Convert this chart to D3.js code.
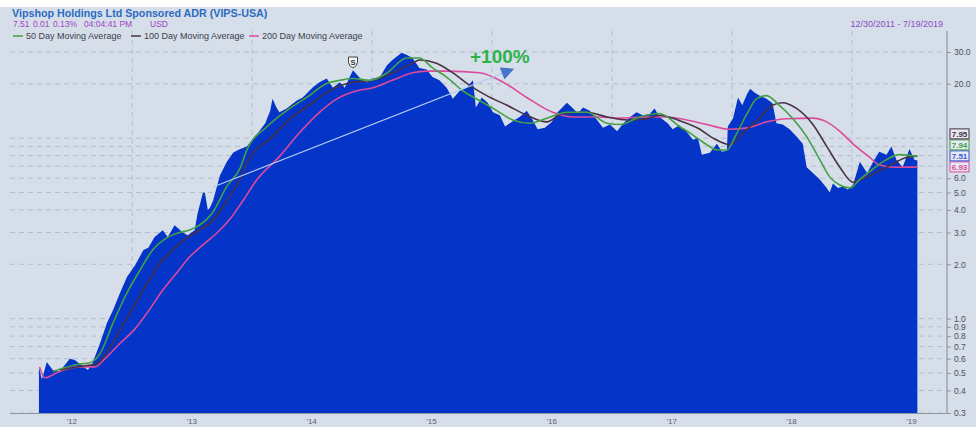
<!DOCTYPE html>
<html>
<head>
<meta charset="utf-8">
<script src="https://cdn.jsdelivr.net/npm/d3@7"></script>
<style>
  body { margin: 0; background: #fff; }
  svg { display: block; font-family: "Liberation Sans", Arial, sans-serif; }
</style>
</head>
<body>
<svg width="976" height="427"></svg>
<script>
/* globals d3 */

// daily close (split adjusted)
var priceDates = ["2012-03-23","2012-04-01","2012-04-16","2012-05-04","2012-05-25","2012-06-25","2012-07-10","2012-08-01","2012-08-19","2012-09-01","2012-09-25","2012-10-16","2012-11-04","2012-11-25","2012-12-16","2013-01-10","2013-02-04","2013-02-19","2013-03-10","2013-04-04","2013-04-19","2013-05-10","2013-06-04","2013-06-19","2013-07-10","2013-07-19","2013-08-04","2013-08-10","2013-08-19","2013-08-25","2013-09-04","2013-09-25","2013-10-16","2013-11-04","2013-11-19","2013-12-16","2014-01-01","2014-01-19","2014-02-10","2014-02-25","2014-03-04","2014-03-16","2014-03-25","2014-04-16","2014-05-16","2014-06-04","2014-07-04","2014-07-25","2014-08-16","2014-09-04","2014-09-25","2014-10-10","2014-10-25","2014-11-04","2014-12-01","2014-12-16","2015-01-04","2015-01-25","2015-02-16","2015-03-04","2015-04-01","2015-04-16","2015-05-04","2015-05-25","2015-06-16","2015-07-04","2015-07-25","2015-08-16","2015-09-04","2015-09-25","2015-10-16","2015-11-04","2015-11-13","2015-12-01","2015-12-19","2016-01-04","2016-01-25","2016-02-10","2016-03-01","2016-03-25","2016-04-16","2016-05-04","2016-05-19","2016-06-10","2016-07-01","2016-07-19","2016-08-16","2016-09-01","2016-09-19","2016-10-04","2016-10-25","2016-11-16","2016-12-04","2016-12-25","2017-01-16","2017-02-04","2017-02-25","2017-03-16","2017-04-04","2017-04-25","2017-05-10","2017-05-25","2017-06-19","2017-07-04","2017-07-25","2017-08-16","2017-09-04","2017-09-19","2017-10-01","2017-10-25","2017-11-16","2017-12-01","2017-12-16","2017-12-19","2018-01-04","2018-01-19","2018-02-01","2018-02-16","2018-02-25","2018-03-10","2018-03-25","2018-04-16","2018-05-04","2018-05-16","2018-06-04","2018-06-25","2018-07-16","2018-08-04","2018-08-16","2018-09-04","2018-09-25","2018-10-16","2018-10-25","2018-11-04","2018-11-19","2018-12-04","2018-12-19","2019-01-04","2019-01-25","2019-02-16","2019-03-10","2019-03-25","2019-04-16","2019-05-01","2019-05-16","2019-06-04","2019-06-25","2019-07-10","2019-07-19"];
var price = [0.54,0.46,0.575,0.52,0.51,0.60,0.59,0.55,0.52,0.56,0.73,0.945,1.12,1.39,1.70,1.98,2.4,2.47,2.83,3.09,2.83,3.29,3.0,2.9,3.09,3.84,4.96,5.0,4.0,4.1,4.5,6.2,7.4,8.3,8.6,9.0,9.8,10.7,12.1,14.2,16.5,14.8,13.9,14.6,16.1,16.8,19.1,20.4,21.4,19.0,20.4,19.0,21.8,23.8,20.9,20.4,21.4,21.8,25.4,27.1,29.7,29.0,27.8,24.5,24.0,21.8,20.9,19.0,16.5,18.3,19.0,20.9,14.8,16.8,15.7,13.9,13.4,11.6,12.3,13.1,14.2,12.6,11.2,11.4,12.3,13.9,15.7,14.8,13.7,14.8,14.2,12.6,11.4,11.9,10.9,12.1,13.1,13.9,13.4,13.6,14.6,13.1,12.1,11.2,11.8,10.8,9.8,10.0,8.1,8.3,9.3,8.4,8.5,11.6,12.9,16.8,15.2,17.6,18.8,17.9,17.2,16.5,15.6,12.1,11.9,11.2,10.2,9.3,6.9,6.4,5.9,5.3,5.0,5.6,5.3,5.4,5.2,5.5,7.4,6.4,7.6,8.4,8.1,9.0,7.6,6.9,8.7,7.6,7.51];

// moving averages
var ma50Dates = ["2012-05-04","2012-07-25","2012-08-25","2012-09-25","2012-11-04","2012-12-16","2013-01-25","2013-03-04","2013-04-16","2013-05-25","2013-06-25","2013-07-25","2013-09-04","2013-10-16","2013-11-25","2013-12-16","2014-02-16","2014-04-16","2014-06-16","2014-08-16","2014-09-25","2014-11-04","2014-12-25","2015-02-16","2015-04-16","2015-05-25","2015-07-04","2015-08-16","2015-10-04","2015-11-25","2016-01-16","2016-03-04","2016-04-25","2016-06-16","2016-08-16","2016-10-16","2016-12-16","2017-01-25","2017-03-25","2017-05-25","2017-07-25","2017-09-04","2017-10-16","2017-11-16","2017-12-16","2018-01-16","2018-02-16","2018-03-16","2018-04-16","2018-05-25","2018-07-04","2018-08-16","2018-09-25","2018-10-25","2018-11-25","2018-12-25","2019-01-25","2019-03-04","2019-04-16","2019-05-25","2019-07-19"];
var ma50 = [0.51,0.56,0.57,0.64,0.95,1.39,1.86,2.4,2.8,3.0,3.1,3.3,3.9,5.4,6.8,8.6,11.6,14.2,16.8,20.1,20.9,21.4,20.9,23.0,27.8,27.8,24.5,21.8,18.3,16.1,14.2,12.6,12.1,12.9,13.9,13.9,12.1,11.9,13.1,13.7,11.6,10.4,9.2,8.6,8.6,10.7,13.7,16.5,17.2,15.2,12.9,10.2,7.6,6.1,5.5,5.3,5.9,6.7,7.6,8.1,7.94];

var ma100Dates = ["2012-05-25","2012-08-16","2012-09-16","2012-10-16","2012-11-25","2013-01-04","2013-02-16","2013-03-25","2013-05-04","2013-06-16","2013-07-25","2013-09-04","2013-10-16","2013-11-25","2013-12-16","2014-03-04","2014-05-04","2014-07-04","2014-09-04","2014-11-04","2015-01-04","2015-03-04","2015-05-04","2015-05-25","2015-07-16","2015-09-04","2015-10-25","2015-12-16","2016-02-16","2016-04-16","2016-06-16","2016-08-04","2016-10-16","2016-12-16","2017-02-16","2017-04-16","2017-05-25","2017-07-25","2017-09-25","2017-11-04","2017-12-25","2018-02-04","2018-03-25","2018-05-04","2018-06-04","2018-07-16","2018-09-04","2018-10-16","2018-11-25","2019-01-04","2019-02-16","2019-04-16","2019-06-16","2019-07-19"];
var ma100 = [0.52,0.55,0.56,0.65,0.86,1.16,1.57,2.02,2.4,2.8,3.1,3.5,4.5,5.9,7.3,10.2,13.1,15.7,18.8,20.4,20.9,23.0,26.0,27.1,26.0,23.0,19.6,17.2,15.2,13.4,12.3,13.7,13.9,13.1,12.6,12.8,13.4,12.5,11.2,10.0,9.2,10.7,12.9,15.2,15.7,14.6,11.9,9.0,6.9,5.7,6.1,6.9,7.8,7.95];

var ma200Dates = ["2012-03-25","2012-04-10","2012-05-25","2012-07-25","2012-09-10","2012-10-10","2012-11-25","2013-01-10","2013-02-25","2013-04-04","2013-05-16","2013-06-25","2013-08-04","2013-09-16","2013-10-25","2013-12-04","2014-01-16","2014-03-25","2014-05-25","2014-07-25","2014-09-16","2014-11-16","2015-01-04","2015-03-04","2015-05-04","2015-06-16","2015-08-16","2015-11-25","2016-02-04","2016-04-16","2016-07-04","2016-09-04","2016-11-16","2017-01-25","2017-04-16","2017-06-16","2017-08-16","2017-10-16","2017-12-25","2018-02-16","2018-04-16","2018-06-16","2018-09-04","2018-10-16","2018-11-25","2019-01-04","2019-02-25","2019-03-25","2019-05-16","2019-07-19"];
var ma200 = [0.54,0.47,0.51,0.54,0.54,0.60,0.73,0.88,1.14,1.44,1.79,2.2,2.56,2.98,3.55,4.5,5.9,7.9,10.7,13.9,16.5,18.3,19.0,20.9,23.0,23.5,23.5,23.0,20.4,16.8,13.9,13.1,13.1,12.9,13.1,13.1,12.6,11.9,11.2,11.4,12.3,12.8,12.9,12.3,10.9,9.3,7.8,7.1,6.9,6.93];

var yTicks = [0.3,0.4,0.5,0.6,0.7,0.8,0.9,1,2,3,4,5,6,7,8,9,10,20,30];
var yLabelTicks = [0.3,0.4,0.5,0.6,0.7,0.8,0.9,1,2,3,4,5,6,20,30];
var yearLabels = ["'12","'13","'14","'15","'16","'17","'18","'19"];
var lastValues = [
  {name: "100", value: 7.95},
  {name: "50", value: 7.94},
  {name: "price", value: 7.51},
  {name: "200", value: 6.93}
];
var splitDate = "2014-11-04";
var arrowFrom = {date: "2013-09-04", value: 5.36},
    arrowTo = {date: "2016-03-05", value: 24.1};

var colors = {area: "#0434c8", ma50: "#43a047", ma100: "#4a3246", ma200: "#dd4a9c", price: "#3a57d6"};

var parse = d3.timeParse("%Y-%m-%d");
var svg = d3.select("svg"),
    plotLeft = 10, plotRight = 947, plotTop = 31, plotBottom = 413;

// background
svg.append("rect").attr("x", 0).attr("y", 7).attr("width", 976).attr("height", 420).attr("fill", "#d6deea");

var x = d3.scaleTime()
  .domain([new Date(2012, 0, 1), new Date(2019, 0, 1)])
  .range([12, 852]);
var y = d3.scaleLog().domain([0.3, 30]).range([plotBottom, 52]);

svg.append("defs").append("clipPath").attr("id", "plot")
  .append("rect").attr("x", plotLeft).attr("y", plotTop)
  .attr("width", plotRight - plotLeft).attr("height", plotBottom - plotTop);

// grid
svg.append("g")
  .selectAll("line")
  .data(yTicks)
  .enter().append("line")
  .attr("x1", plotLeft).attr("x2", plotRight)
  .attr("y1", function(d) { return y(d); })
  .attr("y2", function(d) { return y(d); })
  .attr("stroke", "#b4bdcb").attr("stroke-dasharray", "5,4");

svg.append("g")
  .selectAll("line")
  .data(d3.range(2013, 2020))
  .enter().append("line")
  .attr("x1", function(d) { return x(new Date(d, 0, 1)); })
  .attr("x2", function(d) { return x(new Date(d, 0, 1)); })
  .attr("y1", plotTop).attr("y2", plotBottom)
  .attr("stroke", "#b4bdcb").attr("stroke-dasharray", "5,4");

var plot = svg.append("g").attr("clip-path", "url(#plot)");

var priceData = priceDates.map(function(d, i) { return {date: parse(d), value: price[i]}; });

plot.append("path")
  .datum(priceData)
  .attr("fill", colors.area)
  .attr("d", d3.area()
    .x(function(d) { return x(d.date); })
    .y0(plotBottom)
    .y1(function(d) { return y(d.value); }));

function series(dates, vals) {
  return dates.map(function(d, i) { return {date: parse(d), value: vals[i]}; });
}
var maLine = d3.line()
  .curve(d3.curveMonotoneX)
  .x(function(d) { return x(d.date); })
  .y(function(d) { return y(d.value); });

[[ma200Dates, ma200, colors.ma200], [ma100Dates, ma100, colors.ma100], [ma50Dates, ma50, colors.ma50]].forEach(function(s) {
  plot.append("path")
    .datum(series(s[0], s[1]))
    .attr("fill", "none")
    .attr("stroke", s[2])
    .attr("stroke-width", 1.6)
    .attr("d", maLine);
});

// axes
svg.append("line").attr("x1", plotRight).attr("x2", plotRight).attr("y1", plotTop).attr("y2", plotBottom)
  .attr("stroke", "#8e96a3").attr("stroke-width", 1.2);
svg.append("line").attr("x1", plotLeft).attr("x2", plotRight).attr("y1", plotBottom + 0.5).attr("y2", plotBottom + 0.5)
  .attr("stroke", "#8e96a3");

var yAxis = svg.append("g")
  .attr("transform", "translate(" + plotRight + ",0)")
  .call(d3.axisRight(y).tickValues(yLabelTicks).tickSize(4).tickPadding(3)
    .tickFormat(d3.format(".1f")));
yAxis.select(".domain").remove();
yAxis.selectAll("line").attr("stroke", "#8e96a3");
yAxis.selectAll("text").attr("fill", "#4a505c").attr("font-size", 8.5).attr("font-family", "Liberation Sans, Arial, sans-serif");

svg.append("g")
  .selectAll("text")
  .data(yearLabels)
  .enter().append("text")
  .attr("x", function(d, i) { return x(new Date(2012 + i, 6, 1)); })
  .attr("y", 424)
  .attr("text-anchor", "middle")
  .attr("font-size", 8)
  .attr("fill", "#5b6170")
  .text(function(d) { return d; });

// last value boxes, stacked so they don't overlap
var boxColor = {"100": colors.ma100, "50": colors.ma50, "price": colors.price, "200": colors.ma200};
var stack = lastValues.slice().sort(function(a, b) { return a.value - b.value; });
var prevY = Infinity;
stack.forEach(function(d) {
  var yy = Math.min(y(d.value), prevY - 11);
  prevY = yy;
  var g = svg.append("g").attr("transform", "translate(950," + yy + ")");
  g.append("rect").attr("x", 0).attr("y", -5).attr("width", 19).attr("height", 10)
    .attr("fill", "#e4e9f2").attr("stroke", boxColor[d.name]).attr("stroke-width", 1);
  g.append("text").attr("x", 9.5).attr("y", 3.2).attr("text-anchor", "middle")
    .attr("font-size", 8).attr("font-weight", "bold").attr("fill", boxColor[d.name])
    .text(d.value.toFixed(2));
});

// split marker
var sx = x(parse(splitDate)), sy = 62;
svg.append("path")
  .attr("d", "M" + (sx - 4.5) + "," + (sy - 5) + "h9v5q0,4 -4.5,6q-4.5,-2 -4.5,-6z")
  .attr("fill", "#f4f4f4").attr("stroke", "#333").attr("stroke-width", 0.9);
svg.append("text").attr("x", sx).attr("y", sy + 2.6).attr("text-anchor", "middle")
  .attr("font-size", 7.5).attr("font-weight", "bold").attr("fill", "#333").text("S");

// annotation arrow
svg.select("defs").append("marker")
  .attr("id", "head").attr("viewBox", "0 0 10 10").attr("refX", 9).attr("refY", 5)
  .attr("markerUnits", "userSpaceOnUse").attr("markerWidth", 16).attr("markerHeight", 13)
  .attr("orient", "auto")
  .append("path").attr("d", "M0,0L10,5L0,10z").attr("fill", "#4674cc");

svg.append("line")
  .attr("x1", x(parse(arrowFrom.date))).attr("y1", y(arrowFrom.value))
  .attr("x2", x(parse(arrowTo.date))).attr("y2", y(arrowTo.value))
  .attr("stroke", "#b3ccf2").attr("stroke-width", 1.1)
  .attr("marker-end", "url(#head)");

svg.append("text").attr("x", 470).attr("y", 63)
  .attr("font-size", 19).attr("font-weight", "bold").attr("fill", "#2cb34a")
  .text("+100%");

// header
svg.append("text").attr("x", 12).attr("y", 17)
  .attr("font-size", 10.7).attr("font-weight", "bold").attr("fill", "#2b6cc0")
  .text("Vipshop Holdings Ltd Sponsored ADR (VIPS-USA)");

var quote = [["7.51", 13], ["0.01", 33], ["0.13%", 53], ["04:04:41 PM", 84], ["USD", 150]];
svg.append("g").selectAll("text").data(quote).enter().append("text")
  .attr("x", function(d) { return d[1]; }).attr("y", 27)
  .attr("font-size", 8.5).attr("fill", "#a044c4")
  .text(function(d) { return d[0]; });

svg.append("text").attr("x", 943).attr("y", 27).attr("text-anchor", "end")
  .attr("font-size", 9).attr("fill", "#8a4cc2")
  .text("12/30/2011 - 7/19/2019");

var legend = [["50 Day Moving Average", colors.ma50, 13], ["100 Day Moving Average", colors.ma100, 131], ["200 Day Moving Average", colors.ma200, 249]];
var lg = svg.append("g").selectAll("g").data(legend).enter().append("g")
  .attr("transform", function(d) { return "translate(" + d[2] + ",36)"; });
lg.append("line").attr("x1", 0).attr("x2", 10).attr("y1", 0).attr("y2", 0)
  .attr("stroke", function(d) { return d[1]; }).attr("stroke-width", 1.5);
lg.append("text").attr("x", 13).attr("y", 3)
  .attr("font-size", 9).attr("fill", "#3a3f4a")
  .text(function(d) { return d[0]; });
</script>
</body>
</html>
